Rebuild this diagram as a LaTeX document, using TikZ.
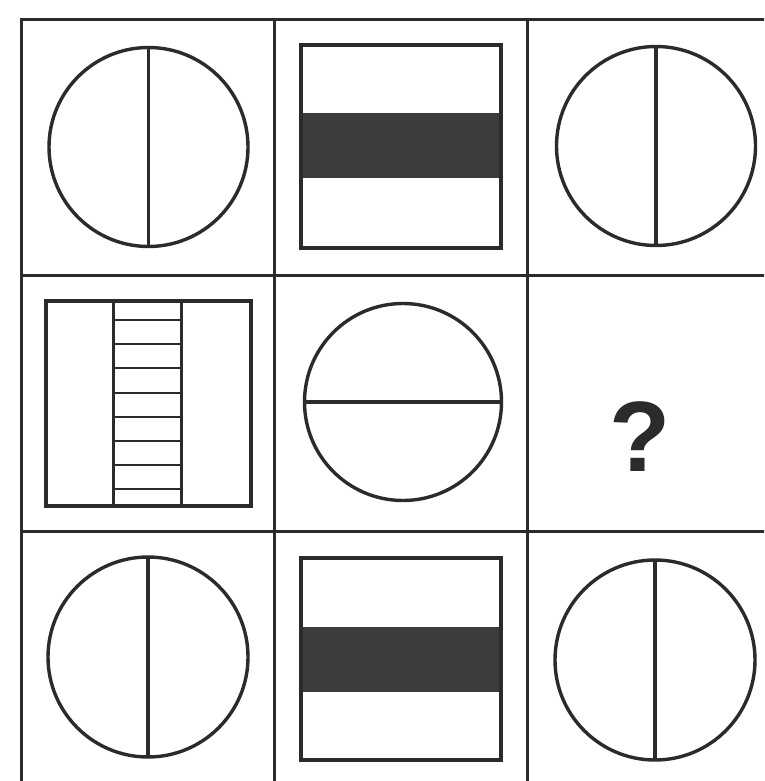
\documentclass[tikz,border=0pt]{standalone}
\usepackage{fontspec}
\setmainfont{Liberation Sans}
\definecolor{ink}{HTML}{2B2B2B}
\definecolor{band}{HTML}{3C3C3C}
\begin{document}
\begin{tikzpicture}[x=1pt,y=-1pt,
  gridline/.style={draw=ink,line width=3pt},
  figline/.style={draw=ink,line width=3.4pt},
  hatchline/.style={draw=ink,line width=2pt}]
\useasboundingbox (0,0) rectangle (764,781);
\clip (0,0) rectangle (764,781);
\fill[white] (0,0) rectangle (764,781);
% grid
\draw[gridline] (21,20) -- (770,20);
\draw[gridline] (21,275) -- (770,275);
\draw[gridline] (21,531) -- (770,531);
\draw[gridline] (21,18.5) -- (21,790);
\draw[gridline] (274,18.5) -- (274,790);
\draw[gridline] (527,18.5) -- (527,790);
% row 1
\draw[figline] (148.5,147) circle (99.5);
\draw[figline] (148.5,47.5) -- (148.5,246.5);
\fill[band] (301,113) rectangle (501,178);
\draw[figline] (301,45) rectangle (501,248);
\draw[figline] (656,146) circle (99.5);
\draw[figline] (656,46.5) -- (656,245.5);
% row 2
\draw[figline] (46,301) rectangle (251,506);
\draw[figline] (113.5,301) -- (113.5,506);
\draw[figline] (181.5,301) -- (181.5,506);
\foreach \yy in {320,344.2,368.4,392.6,416.8,441,465.2,489.4}
  \draw[hatchline] (113.5,\yy) -- (181.5,\yy);
\draw[figline] (403,402) circle (98.5);
\draw[figline] (304.5,402) -- (501.5,402);
\node[text=ink,font=\bfseries\fontsize{100}{100}\selectfont,inner sep=0pt] (q) at (640,437) {?};
% row 3
\draw[figline] (148,657) circle (100);
\draw[figline] (148,557) -- (148,757);
\fill[band] (301,627) rectangle (501,692);
\draw[figline] (301,558) rectangle (501,760);
\draw[figline] (655,660) circle (100);
\draw[figline] (655,560) -- (655,760);
\end{tikzpicture}
\end{document}
